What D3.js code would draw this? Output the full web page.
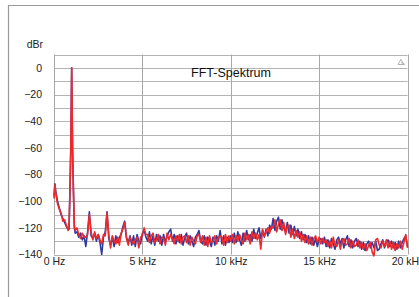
<!DOCTYPE html>
<html><head><meta charset="utf-8">
<script src="https://cdn.jsdelivr.net/npm/d3@7"></script>
<style>body{margin:0;background:#fff}svg{display:block}text{font-family:"Liberation Sans",Arial,sans-serif}</style>
</head><body><svg id="c" width="419" height="297"></svg>
<script>
const freqs = [0,0.05,0.1,0.2,0.3,0.4,0.5,0.6,0.7,0.8,0.85,0.9,0.95,1.0,1.05,1.1,1.15,1.2,
1.3,1.4,1.5,1.6,1.7,1.8,1.9,2.0,2.1,2.2,2.3,2.4,2.5,2.6,2.7,2.8,2.9,3.0,
3.1,3.2,3.3,3.4,3.5,3.6,3.7,3.8,3.9,4.0,4.1,4.2,4.3,4.4,4.5,4.6,4.7,4.8,4.9,5.0,
5.1,5.2,5.3,5.4,5.5,5.6,5.7,5.8,5.9,6.0,6.1,6.2,6.3,6.4,6.5,6.6,6.7,6.8,6.9,7.0,
7.1,7.2,7.3,7.4,7.5,7.6,7.7,7.8,7.9,8.0,8.1,8.2,8.3,8.4,8.5,8.6,8.7,8.8,8.9,9.0,
9.1,9.2,9.3,9.4,9.5,9.6,9.7,9.8,9.9,10.0,10.1,10.2,10.3,10.4,10.5,10.6,10.7,10.8,10.9,11.0,
11.1,11.2,11.3,11.4,11.5,11.6,11.7,11.8,11.9,12.0,12.1,12.2,12.3,12.4,12.5,12.6,12.7,12.8,12.9,13.0,
13.1,13.2,13.3,13.4,13.5,13.6,13.7,13.8,13.9,14.0,14.1,14.2,14.3,14.4,14.5,14.6,14.7,14.8,14.9,15.0,
15.1,15.2,15.3,15.4,15.5,15.6,15.7,15.8,15.9,16.0,16.1,16.2,16.3,16.4,16.5,16.6,16.7,16.8,16.9,17.0,
17.1,17.2,17.3,17.4,17.5,17.6,17.7,17.8,17.9,18.0,18.1,18.2,18.3,18.4,18.5,18.6,18.7,18.8,18.9,19.0,
19.1,19.2,19.3,19.4,19.5,19.6,19.7,19.8,19.9,20.0];

const blueDb = [-96,-87,-93,-100,-105,-110,-113,-116,-119,-121,-121,-95,-62,0,-62,-93,-120,-124,
-123,-127,-124,-129,-126,-134,-123,
-108,
-126,-128,-124,-130,-125,-131,-140,-127,-123,
-108,
-128,-133,-127,-134,-126,-131,-127,-125,-119,
-115,
-127,-131,-126,-133,-126,-134,-125,-130,-132,-124,
-122,-127,-130,-123,-132,-126,-133,-125,-130,-126,
-133,-125,-131,-126,-123,-121,-130,-125,-132,-126,
-131,-125,-133,-127,-124,-132,-126,-130,-134,-127,
-125,-122,-130,-132,-126,-133,-127,-130,-134,-127,
-133,-126,-130,-122,-132,-126,-133,-127,-131,-126,
-131,-124,-131,-123,-129,-133,-124,-130,-122,-129,
-125,-130,-121,-128,-124,-120,-128,-122,-127,-121,
-126,-118,-121,-113,-122,-115,-112,-121,-114,-120,
-123,-116,-124,-118,-125,-119,-126,-121,-128,-123,
-129,-125,-131,-126,-132,-127,-133,-128,-134,-129,
-128,-132,-127,-134,-129,-135,-128,-132,-136,-129,
-127,-132,-128,-135,-129,-126,-134,-129,-135,-130,
-128,-134,-130,-136,-131,-137,-132,-130,-135,-131,
-135,-130,-137,-136,-132,-129,-135,-131,-129,-134,
-130,-135,-131,-136,-130,-135,-131,-128,-126,-134];

const redDb = [-98,-88,-94,-102,-106,-109,-115,-114,-118,-122,-120,-93,-60,0,-60,-92,-118,-122,
-120,-125,-128,-124,-127,-127,-125,
-110,
-123,-129,-123,-128,-125,-129,-132,-125,-126,
-109,
-125,-135,-126,-130,-132,-127,-133,-124,-121,
-116,
-128,-133,-127,-130,-132,-129,-127,-135,-127,-126,
-120,-125,-125,-131,-126,-124,-131,-129,-125,-132,
-127,-128,-133,-124,-129,-125,-128,-132,-126,-130,
-125,-132,-127,-126,-131,-126,-133,-127,-130,-132,
-126,-125,-131,-126,-133,-127,-134,-126,-131,-130,
-126,-132,-127,-126,-127,-133,-125,-131,-126,-130,
-125,-132,-126,-130,-125,-129,-132,-124,-129,-125,
-132,-123,-128,-124,-129,-125,-136,-121,-126,-123,
-120,-124,-119,-120,-114,-123,-117,-114,-122,-116,
-125,-119,-118,-127,-121,-128,-122,-127,-123,-130,
-125,-131,-126,-132,-127,-133,-128,-126,-131,-127,
-132,-128,-131,-129,-134,-130,-135,-127,-133,-134,
-129,-136,-130,-128,-133,-132,-128,-135,-130,-134,
-133,-129,-135,-131,-136,-132,-137,-133,-131,-138,
-141,-129,-128,-133,-135,-130,-134,-129,-135,-130,
-136,-131,-137,-132,-135,-130,-136,-131,-125,-135];

const yTicks = [0,-20,-40,-60,-80,-100,-120,-140];
const yGrid = [10,0,-10,-20,-30,-40,-50,-60,-70,-80,-90,-100,-110,-120,-130,-140];
const xTicks = [0,5,10,15,20];
const xTickLabels = ["0 Hz","5 kHz","10 kHz","15 kHz","20 kHz"];

const svg = d3.select("#c");
const x = d3.scaleLinear().domain([0,20]).range([54,407.5]);
const y = d3.scaleLinear().domain([10,-140]).range([54.5,254.5]);

// outer frame
svg.append("path").attr("d","M8.5,297V5.5H419").attr("fill","none").attr("stroke","#9a9a9a").attr("stroke-width",1.2);

// grid
const g = svg.append("g");
g.selectAll(".hg").data(yGrid).join("line")
  .attr("x1",x(0)).attr("x2",x(20)).attr("y1",d=>Math.round(y(d))+0.5).attr("y2",d=>Math.round(y(d))+0.5)
  .attr("stroke","#b4b4b4").attr("stroke-width",1);
g.selectAll(".vg").data(xTicks).join("line")
  .attr("y1",y(10)).attr("y2",y(-140)).attr("x1",d=>Math.round(x(d))+0.5).attr("x2",d=>Math.round(x(d))+0.5)
  .attr("stroke","#a8a8a8").attr("stroke-width",1);

// axes labels
const ya = d3.axisLeft(y).tickValues(yTicks).tickSize(0).tickPadding(0).tickFormat(d3.format("d"));
const yg = svg.append("g").attr("transform","translate(42,0)").call(ya);
yg.select(".domain").remove();
yg.selectAll("text").attr("font-size",10.5).attr("fill","#222").attr("font-family","Liberation Sans, Arial, sans-serif");

const xa = d3.axisBottom(x).tickValues(xTicks).tickSize(0).tickPadding(0).tickFormat((d,i)=>xTickLabels[i]);
const xg = svg.append("g").attr("transform","translate(0,258)").call(xa);
xg.select(".domain").remove();
xg.selectAll("text").attr("font-size",10.5).attr("fill","#222").attr("font-family","Liberation Sans, Arial, sans-serif");

svg.append("text").attr("x",43).attr("y",48).attr("text-anchor","end").attr("font-size",10.5).attr("fill","#222").text("dBr");

svg.append("text").attr("x",231).attr("y",77).attr("text-anchor","middle").attr("font-size",12.5).attr("fill","#111").text("FFT-Spektrum");

// small icon
svg.append("path").attr("d","M398,64.5L401,59.5L404,64.5Z M401,62.5L405,64.5").attr("fill","none").attr("stroke","#aaa").attr("stroke-width",0.9);

const line = d3.line().x((d,i)=>x(freqs[i])).y(d=>y(d));
svg.append("path").datum(blueDb).attr("d",line).attr("fill","none").attr("stroke","#2f3a9e").attr("stroke-width",1.6).attr("stroke-linejoin","round");
svg.append("path").datum(redDb).attr("d",line).attr("fill","none").attr("stroke","#f0282a").attr("stroke-width",1.6).attr("stroke-linejoin","round");
</script></body></html>
